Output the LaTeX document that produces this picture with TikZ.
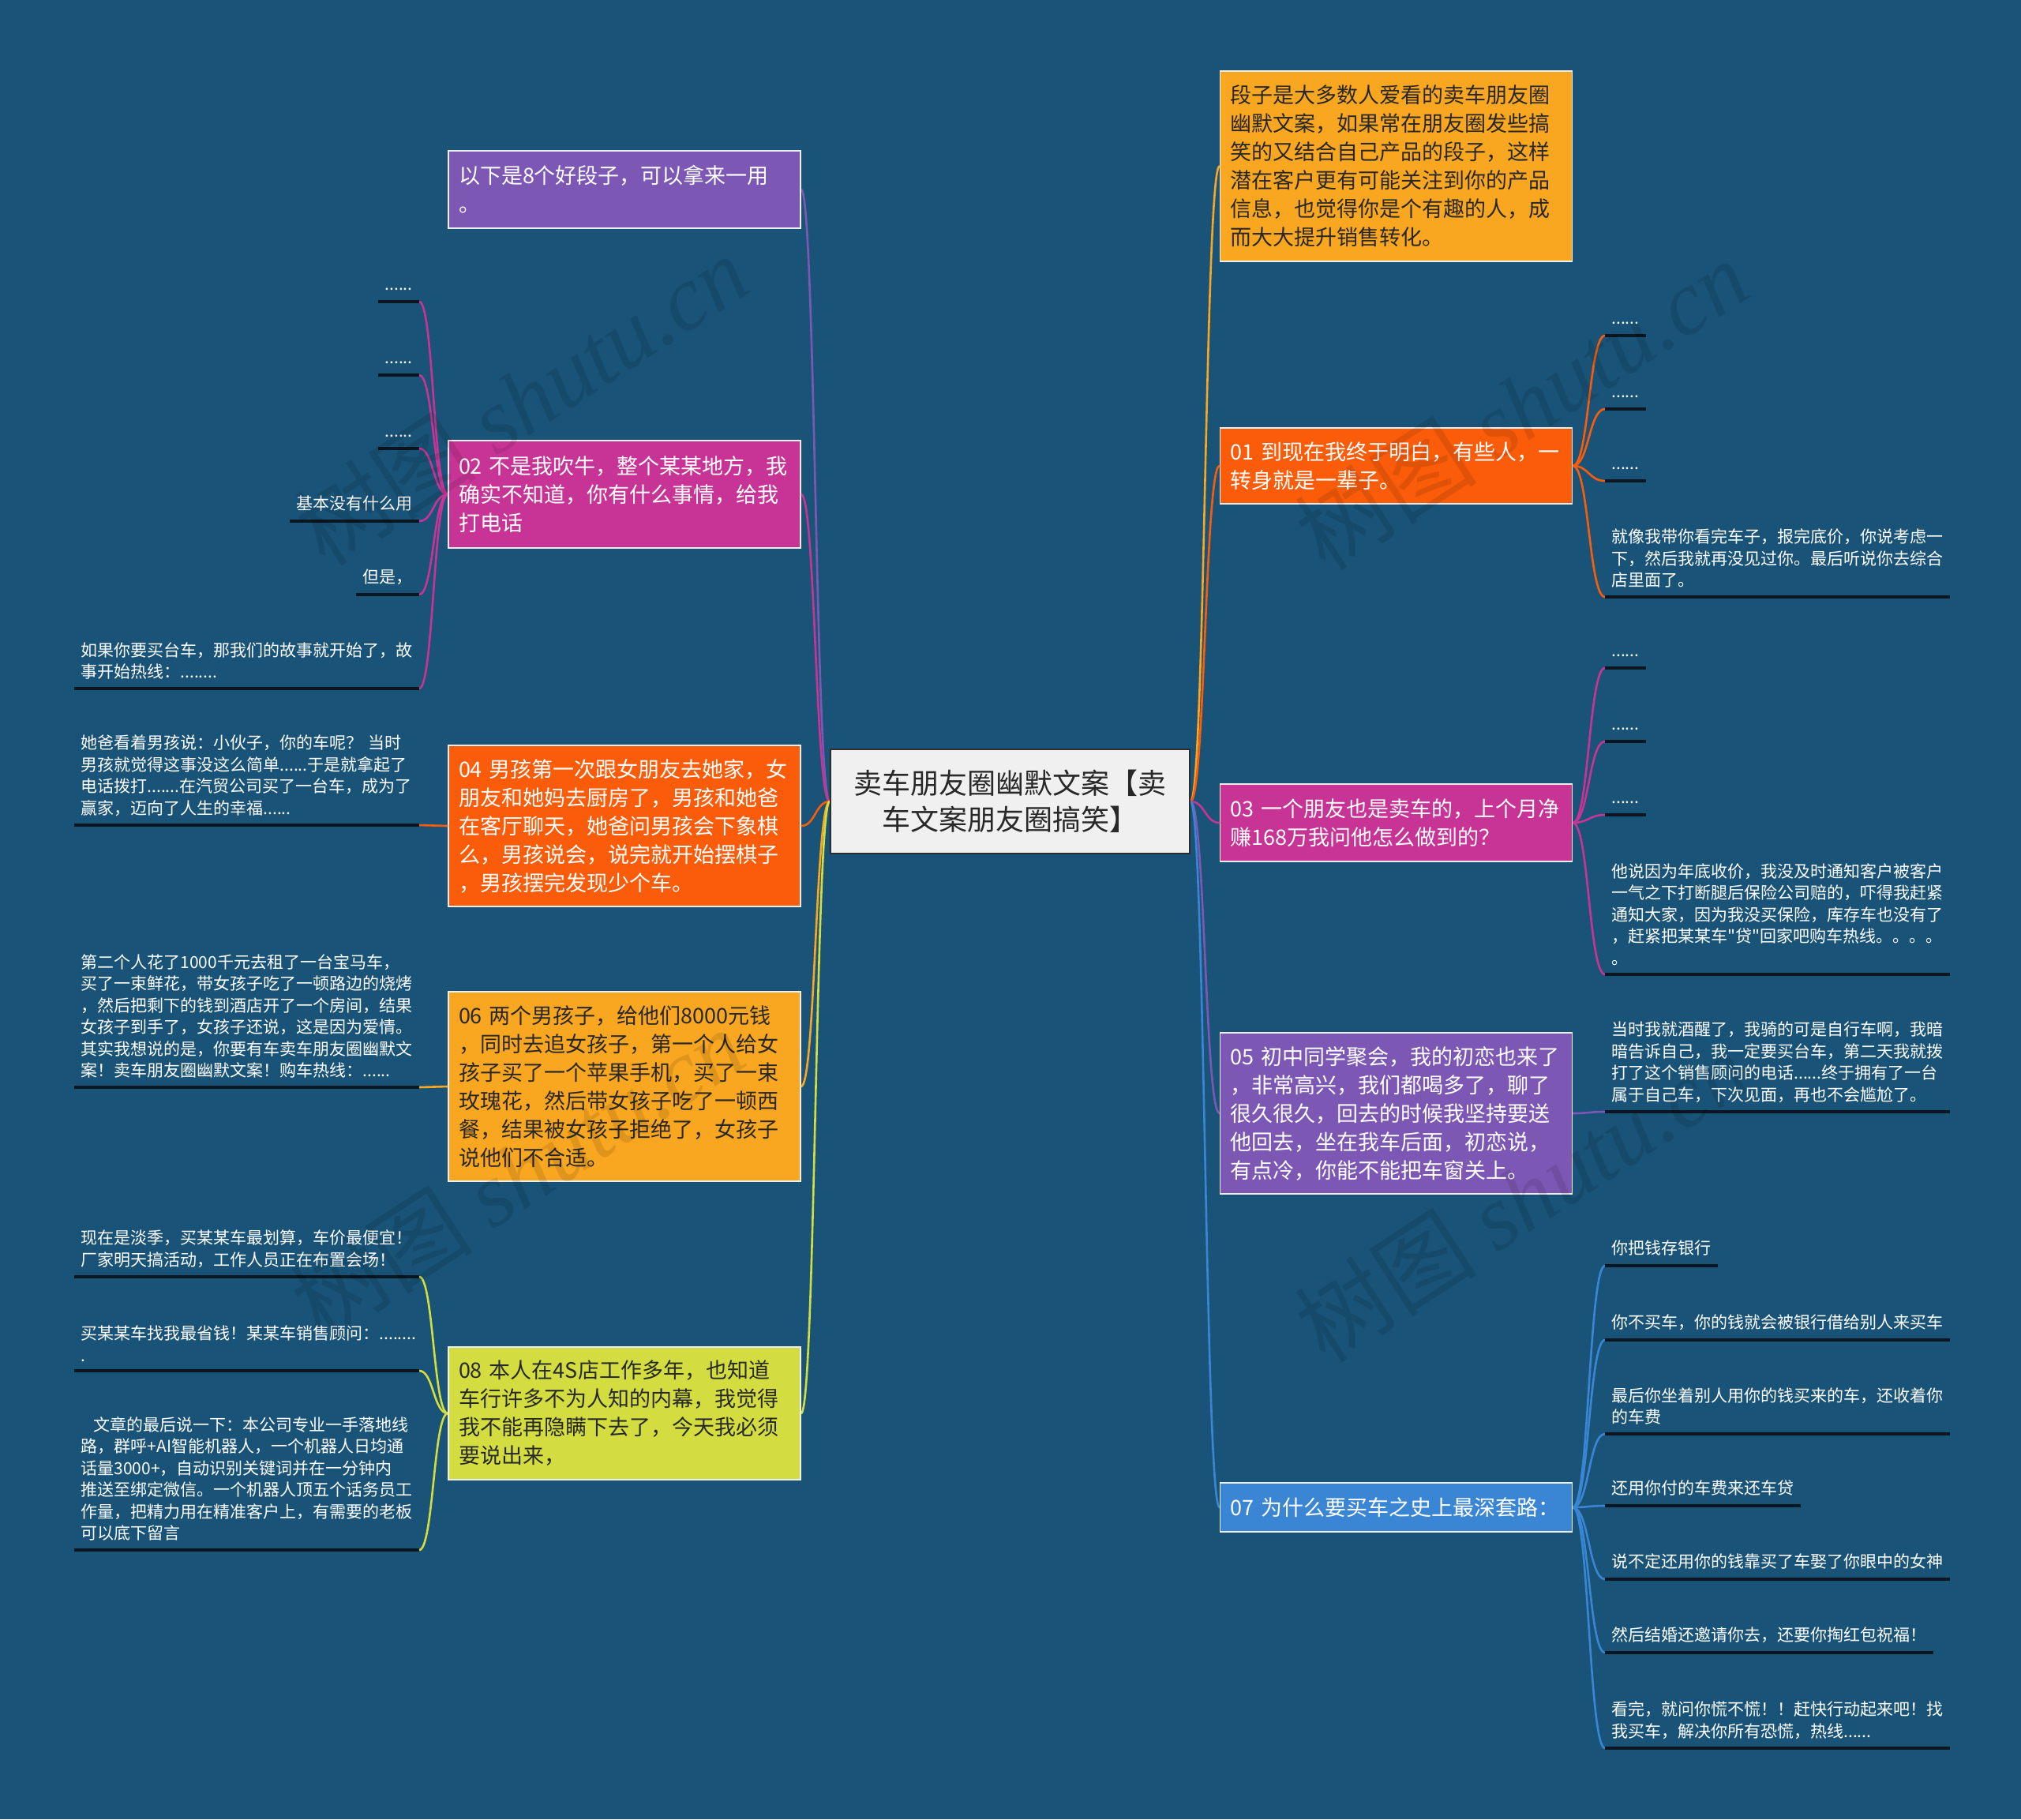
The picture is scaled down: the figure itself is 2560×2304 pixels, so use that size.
\documentclass[tikz,border=0pt]{standalone}
\usepackage{fontspec}
\newfontfamily\cjk{Noto Sans CJK SC}
\newfontfamily\wmserif{Liberation Serif}
\usetikzlibrary{calc}
\definecolor{bg}{RGB}{25,83,120}
\definecolor{cpur}{RGB}{125,87,180}
\definecolor{cmag}{RGB}{200,52,150}
\definecolor{cora}{RGB}{250,92,10}
\definecolor{camb}{RGB}{249,166,32}
\definecolor{cyel}{RGB}{212,221,64}
\definecolor{cblu}{RGB}{58,134,212}
\definecolor{dtext}{RGB}{40,40,40}
\definecolor{ulc}{RGB}{12,22,32}
\definecolor{cbord}{RGB}{238,238,238}
\pgfdeclarelayer{bgl}
\pgfsetlayers{bgl,main}
\tikzset{
  central/.style={rectangle, fill={rgb,255:red,240;green,240;blue,240}, draw={rgb,255:red,45;green,45;blue,45}, line width=1pt,
    minimum width=227.5pt, minimum height=66pt, inner sep=0pt, align=center, text=dtext,
    font=\cjk\fontsize{18}{23}\selectfont},
  box/.style={rectangle, draw=cbord, line width=0.75pt, inner xsep=6.5pt, inner ysep=0pt,
    text width=210pt, align=left, font=\cjk\fontsize{13.5}{18}\selectfont},
  wbox/.style={box, text=white},
  dbox/.style={box, text=dtext},
  leafbase/.style={inner xsep=4pt, inner ysep=5.5pt, align=left, text=white,
    font=\cjk\fontsize{10.5}{13.75}\selectfont},
  leaf/.style={leafbase, text depth=1.5pt},
  leafw/.style={leafbase, text width=210pt},
  lleaf/.style={leaf, anchor=south east},
  rleaf/.style={leaf, anchor=south west},
  lleafw/.style={leafw, anchor=south east},
  rleafw/.style={leafw, anchor=south west},
  ulstyle/.style={draw=ulc, line width=1.75pt},
  connstyle/.style={line width=1.3pt, line cap=round},
  wm/.style={text=black, text opacity=0.1, font=\fontsize{58}{60}\selectfont, rotate=33, inner sep=0pt}
}
\newcommand{\conn}[3]{\draw[connstyle,#1] let \p1=(#2), \p2=(#3) in (\p1) .. controls ({0.5*\x1+0.5*\x2},\y1) and ({0.5*\x1+0.5*\x2},\y2) .. (\p2);}
\newcommand{\uln}[1]{\draw[ulstyle] (#1.south west) -- (#1.south east);}
\begin{document}
\begin{tikzpicture}[x=0.5pt,y=-0.5pt]
\begin{pgfonlayer}{bgl}
\fill[bg] (0,0) rectangle (2560,2304);
\end{pgfonlayer}
\useasboundingbox (0,0) rectangle (2560,2304);

% central
\node[central] (c) at (1279.5,1015) {卖车朋友圈幽默文案【卖\\车文案朋友圈搞笑】};

% left boxes
\node[wbox, fill=cpur, minimum height=49pt] (bA) at (791,240) {以下是8个好段子，可以拿来一用\\。};
\node[wbox, fill=cmag, minimum height=68pt] (b02) at (791,626) {02~不是我吹牛，整个某某地方，我\\确实不知道，你有什么事情，给我\\打电话};
\node[wbox, fill=cora, minimum height=102pt] (b04) at (791,1046) {04~男孩第一次跟女朋友去她家，女\\朋友和她妈去厨房了，男孩和她爸\\在客厅聊天，她爸问男孩会下象棋\\么，男孩说会，说完就开始摆棋子\\，男孩摆完发现少个车。};
\node[dbox, fill=camb, minimum height=120pt] (b06) at (791,1376) {06~两个男孩子，给他们8000元钱\\，同时去追女孩子，第一个人给女\\孩子买了一个苹果手机，买了一束\\玫瑰花，然后带女孩子吃了一顿西\\餐，结果被女孩子拒绝了，女孩子\\说他们不合适。};
\node[dbox, fill=cyel, minimum height=84pt] (b08) at (791,1790) {08~本人在4S店工作多年，也知道\\车行许多不为人知的内幕，我觉得\\我不能再隐瞒下去了，今天我必须\\要说出来，};

% right boxes
\node[dbox, fill=camb, minimum height=120.5pt] (bT) at (1768.5,210.5) {段子是大多数人爱看的卖车朋友圈\\幽默文案，如果常在朋友圈发些搞\\笑的又结合自己产品的段子，这样\\潜在客户更有可能关注到你的产品\\信息，也觉得你是个有趣的人，成\\而大大提升销售转化。};
\node[wbox, fill=cora, minimum height=48pt] (b01) at (1768.5,590) {01~到现在我终于明白，有些人，一\\转身就是一辈子。};
\node[wbox, fill=cmag, minimum height=49pt] (b03) at (1768.5,1042) {03~一个朋友也是卖车的，上个月净\\赚168万我问他怎么做到的？};
\node[wbox, fill=cpur, minimum height=102pt] (b05) at (1768.5,1410) {05~初中同学聚会，我的初恋也来了\\，非常高兴，我们都喝多了，聊了\\很久很久，回去的时候我坚持要送\\他回去，坐在我车后面，初恋说，\\有点冷，你能不能把车窗关上。};
\node[wbox, fill=cblu, minimum height=31pt] (b07) at (1768.5,1909) {07~为什么要买车之史上最深套路：};

% left leaves
\node[lleaf] (l02a) at (531,382) {......};
\node[lleaf] (l02b) at (531,475) {......};
\node[lleaf] (l02c) at (531,568) {......};
\node[lleaf] (l02d) at (531,660) {基本没有什么用};
\node[lleaf] (l02e) at (531,753) {但是，};
\node[lleafw] (l02f) at (531,872) {如果你要买台车，那我们的故事就开始了，故\\事开始热线：........};
\node[lleafw] (l04) at (531,1045) {她爸看着男孩说：小伙子，你的车呢？~当时\\男孩就觉得这事没这么简单......于是就拿起了\\电话拨打.......在汽贸公司买了一台车，成为了\\赢家，迈向了人生的幸福......};
\node[lleafw] (l06) at (531,1377) {第二个人花了1000千元去租了一台宝马车，\\买了一束鲜花，带女孩子吃了一顿路边的烧烤\\，然后把剩下的钱到酒店开了一个房间，结果\\女孩子到手了，女孩子还说，这是因为爱情。\\其实我想说的是，你要有车卖车朋友圈幽默文\\案！卖车朋友圈幽默文案！购车热线：......};
\node[lleafw] (l08a) at (531,1617) {现在是淡季，买某某车最划算，车价最便宜！\\厂家明天搞活动，工作人员正在布置会场！};
\node[lleafw] (l08b) at (531,1736) {买某某车找我最省钱！某某车销售顾问：........\\.};
\node[lleafw] (l08c) at (531,1963) {\hspace*{8pt}文章的最后说一下：本公司专业一手落地线\\路，群呼+AI智能机器人，一个机器人日均通\\话量3000+，自动识别关键词并在一分钟内\\推送至绑定微信。一个机器人顶五个话务员工\\作量，把精力用在精准客户上，有需要的老板\\可以底下留言};

% right leaves
\node[rleaf] (l01a) at (2033,425) {......};
\node[rleaf] (l01b) at (2033,518) {......};
\node[rleaf] (l01c) at (2033,609) {......};
\node[rleafw] (l01d) at (2033,756) {就像我带你看完车子，报完底价，你说考虑一\\下，然后我就再没见过你。最后听说你去综合\\店里面了。};
\node[rleaf] (l03a) at (2033,846) {......};
\node[rleaf] (l03b) at (2033,939) {......};
\node[rleaf] (l03c) at (2033,1032) {......};
\node[rleafw] (l03d) at (2033,1234) {他说因为年底收价，我没及时通知客户被客户\\一气之下打断腿后保险公司赔的，吓得我赶紧\\通知大家，因为我没买保险，库存车也没有了\\，赶紧把某某车"贷"回家吧购车热线。。。。\\。};
\node[rleafw] (l05) at (2033,1408) {当时我就酒醒了，我骑的可是自行车啊，我暗\\暗告诉自己，我一定要买台车，第二天我就拨\\打了这个销售顾问的电话......终于拥有了一台\\属于自己车，下次见面，再也不会尴尬了。};
\node[rleaf] (l07a) at (2033,1603) {你把钱存银行};
\node[rleaf] (l07b) at (2033,1697) {你不买车，你的钱就会被银行借给别人来买车};
\node[rleafw] (l07c) at (2033,1816) {最后你坐着别人用你的钱买来的车，还收着你\\的车费};
\node[rleaf] (l07d) at (2033,1907) {还用你付的车费来还车贷};
\node[rleaf] (l07e) at (2033,2000) {说不定还用你的钱靠买了车娶了你眼中的女神};
\node[rleaf] (l07f) at (2033,2093) {然后结婚还邀请你去，还要你掏红包祝福！};
\node[rleafw] (l07g) at (2033,2214) {看完，就问你慌不慌！！赶快行动起来吧！找\\我买车，解决你所有恐慌，热线......};

% connectors
\begin{pgfonlayer}{bgl}
\conn{cpur}{c.west}{bA.east}
\conn{cmag}{c.west}{b02.east}
\conn{cora}{c.west}{b04.east}
\conn{camb}{c.west}{b06.east}
\conn{cyel}{c.west}{b08.east}
\conn{camb}{c.east}{bT.west}
\conn{cora}{c.east}{b01.west}
\conn{cmag}{c.east}{b03.west}
\conn{cpur}{c.east}{b05.west}
\conn{cblu}{c.east}{b07.west}
\foreach \q in {l02a,l02b,l02c,l02d,l02e,l02f}{\conn{cmag}{b02.west}{\q.south east}}
\conn{cora}{b04.west}{l04.south east}
\conn{camb}{b06.west}{l06.south east}
\foreach \q in {l08a,l08b,l08c}{\conn{cyel}{b08.west}{\q.south east}}
\foreach \q in {l01a,l01b,l01c,l01d}{\conn{cora}{b01.east}{\q.south west}}
\foreach \q in {l03a,l03b,l03c,l03d}{\conn{cmag}{b03.east}{\q.south west}}
\conn{cpur}{b05.east}{l05.south west}
\foreach \q in {l07a,l07b,l07c,l07d,l07e,l07f,l07g}{\conn{cblu}{b07.east}{\q.south west}}
\end{pgfonlayer}

% underlines
\foreach \q in {l02a,l02b,l02c,l02d,l02e,l02f,l04,l06,l08a,l08b,l08c,l01a,l01b,l01c,l01d,l03a,l03b,l03c,l03d,l05,l07a,l07b,l07c,l07d,l07e,l07f,l07g}{\uln{\q}}

% watermarks
\node[wm] (w1) at (660,506) {\cjk 树图\ \wmserif\itshape shutu.cn};
\node[wm] (w2) at (1927,512) {\cjk 树图\ \wmserif\itshape shutu.cn};
\node[wm] (w3) at (655,1486) {\cjk 树图\ \wmserif\itshape shutu.cn};
\node[wm] (w4) at (1927,1515) {\cjk 树图\ \wmserif\itshape shutu.cn};
\end{tikzpicture}
\end{document}
